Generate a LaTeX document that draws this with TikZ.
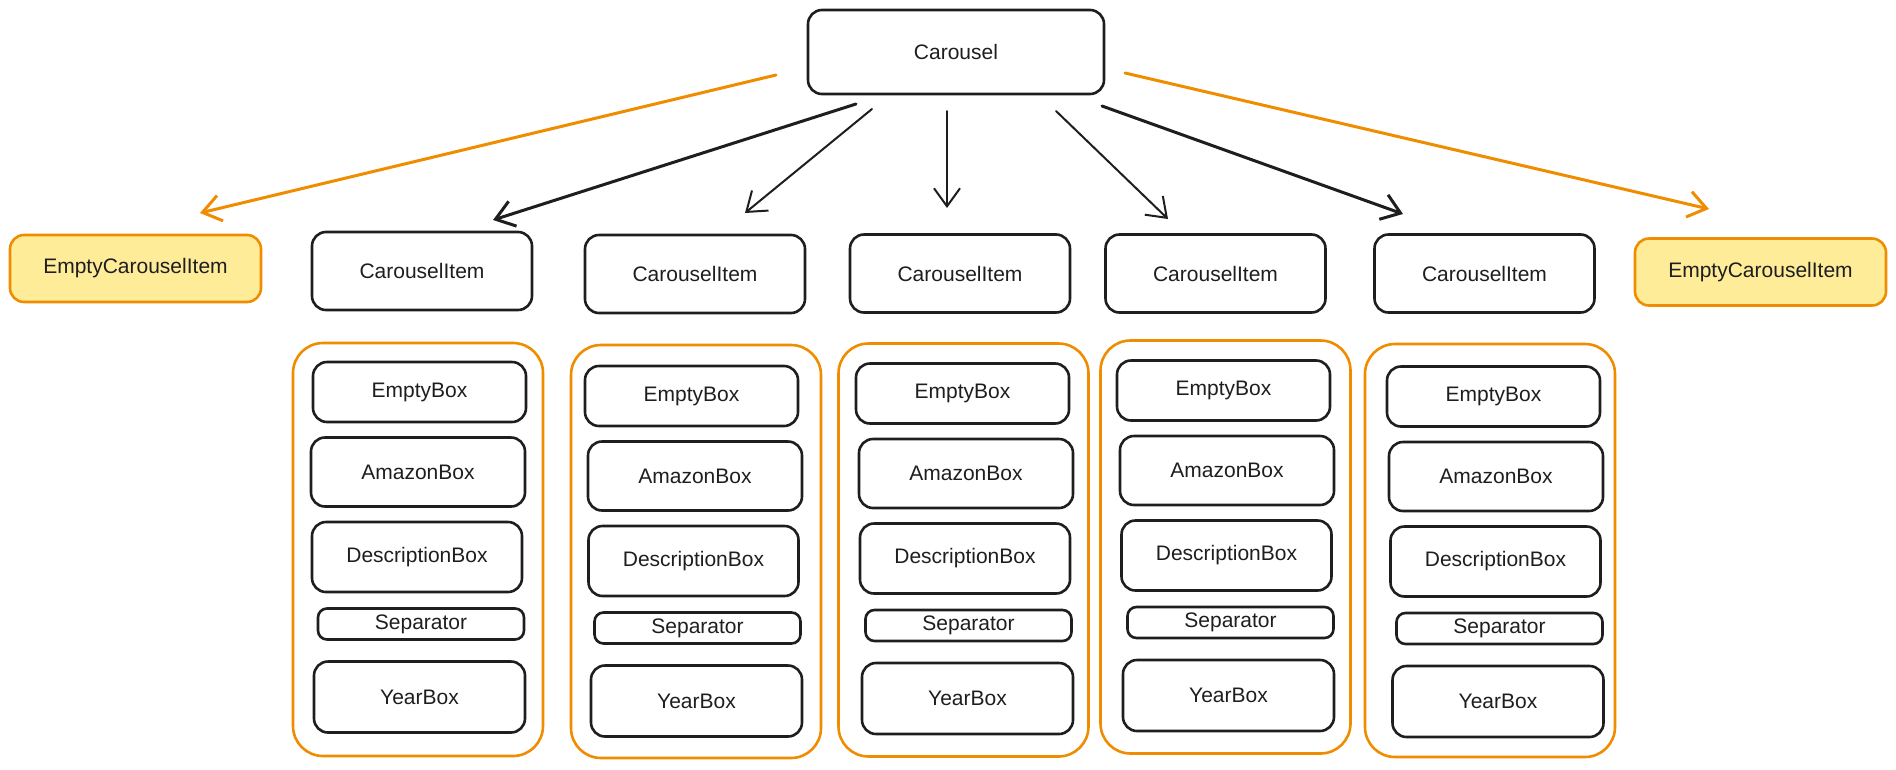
\documentclass[tikz,border=0pt]{standalone}
\usepackage{fontspec}
\setmainfont{Liberation Sans}
\usetikzlibrary{arrows.meta}
\definecolor{ink}{HTML}{1E1E1E}
\definecolor{exorange}{HTML}{F08C00}
\definecolor{exyellow}{HTML}{FFEC99}
\begin{document}
\begin{tikzpicture}[x=1pt,y=-1pt,
  every node/.style={font=\fontsize{21}{25}\selectfont, text=ink},
  box/.style={draw=ink, line width=2.6pt, rounded corners=14pt, inner sep=0pt},
  topbox/.style={box, minimum width=220pt, minimum height=78pt},
  emptyitem/.style={box, draw=exorange, fill=exyellow, minimum width=251pt, minimum height=67pt},
  holder/.style={draw=exorange, line width=2.6pt, rounded corners=30pt, minimum width=250pt, minimum height=413pt, inner sep=0pt},
  emptyb/.style={box, minimum width=213pt, minimum height=60pt},
  amazonb/.style={box, minimum width=214pt, minimum height=69pt},
  descb/.style={box, minimum width=210pt, minimum height=70pt},
  sepb/.style={box, rounded corners=9pt, minimum width=206pt, minimum height=31pt},
  yearb/.style={box, minimum width=211pt, minimum height=71pt},
  conn/.style={draw=ink, line width=3pt, line cap=round, line join=round, -{Straight Barb[length=18pt,width=26pt]}},
  thinconn/.style={conn, line width=2pt},
  oconn/.style={conn, draw=exorange, line width=3pt}
]
\useasboundingbox (0,0) rectangle (1896,769);

% top
\node[box, minimum width=296pt, minimum height=84pt] (carousel) at (956,52) {Carousel};
\node[emptyitem] (emptyL) at (135.5,268.5) {EmptyCarouselItem};
\node[emptyitem] (emptyR) at (1760.5,272) {EmptyCarouselItem};
\node[topbox] (ci1) at (422,271) {CarouselItem};
\node[topbox] (ci2) at (695,274) {CarouselItem};
\node[topbox] (ci3) at (960,273.5) {CarouselItem};
\node[topbox] (ci4) at (1215.5,273.5) {CarouselItem};
\node[topbox] (ci5) at (1484.5,273.5) {CarouselItem};

% columns: index / x / y / holder centre / x offsets of AmazonBox, DescriptionBox, Separator, YearBox
\foreach \i/\x/\y/\cx/\cy/\oa/\od/\os/\oy in {
  1/419.5/392/418/549.5/-1.5/-2.5/1.5/0,
  2/691.5/396/696/551.5/3.5/2/6/5,
  3/962.5/393.5/963.5/550/3.5/2.5/6/5,
  4/1223.5/390.5/1225.5/547/3.5/3/7/5,
  5/1493.5/396.5/1490/550.5/2.5/2/6/4.5}{
  \node[holder] (ct\i) at (\cx,\cy) {};
  \node[emptyb] (eb\i) at (\x,\y) {EmptyBox};
  \node[amazonb] (ab\i) at (\x+\oa,\y+80) {AmazonBox};
  \node[descb] (db\i) at (\x+\od,\y+165) {DescriptionBox};
  \node[sepb] (sb\i) at (\x+\os,\y+232) {Separator};
  \node[yearb] (yb\i) at (\x+\oy,\y+305) {YearBox};
}

% connector end points
\coordinate (sOL) at (776,75);   \coordinate (eOL) at (200,213);
\coordinate (s1) at (856,104);   \coordinate (e1) at (493,220);
\coordinate (s2) at (872,109);   \coordinate (e2) at (745,213);
\coordinate (s3) at (947,111);   \coordinate (e3) at (947,208);
\coordinate (s4) at (1056,111);  \coordinate (e4) at (1168,219);
\coordinate (s5) at (1102,106);  \coordinate (e5) at (1403,214);
\coordinate (sOR) at (1125,73);  \coordinate (eOR) at (1709,209);

\draw[oconn] (sOL) -- (eOL);
\draw[conn] (s1) -- (e1);
\draw[thinconn] (s2) -- (e2);
\draw[thinconn] (s3) -- (e3);
\draw[thinconn] (s4) -- (e4);
\draw[conn] (s5) -- (e5);
\draw[oconn] (sOR) -- (eOR);
\end{tikzpicture}
\end{document}
